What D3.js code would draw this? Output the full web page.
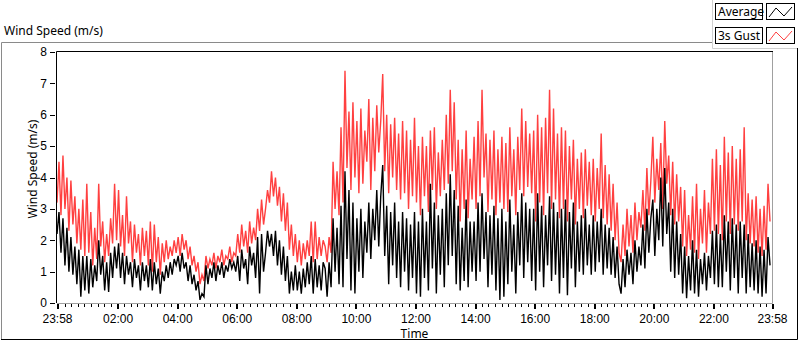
<!DOCTYPE html>
<html>
<head>
<meta charset="utf-8">
<script src="https://cdnjs.cloudflare.com/ajax/libs/d3/7.8.5/d3.min.js"></script>
<style>
  body { margin: 0; background: #fff; }
  svg { display: block; font-family: "Segoe UI", "Noto Sans", sans-serif; font-size: 12px; }
</style>
</head>
<body>
<div class="chart"></div>
<script>
// Wind speed chart: one sample every 4 minutes over 24 hours (15 per row = 1 hour)
var startTime = "2000-01-01 23:58";
var endTime = "2000-01-02 23:58";
var sampleMinutes = 4;

var gustSpeed = [
  3.2, 4.5, 2.8, 4.7, 3.0, 4.0, 2.3, 3.9, 2.5, 3.4, 1.9, 3.0, 1.7, 3.3, 1.5,
  3.8, 1.6, 2.9, 1.2, 2.4, 1.4, 3.8, 1.8, 2.6, 1.3, 2.2, 1.5, 2.7, 1.9, 3.8,
  2.0, 3.6, 1.8, 2.8, 1.5, 3.4, 1.9, 2.6, 1.3, 2.5, 1.6, 2.2, 1.2, 2.4, 1.5,
  2.3, 1.2, 2.6, 1.0, 2.5, 1.3, 2.1, 0.9, 1.9, 1.3, 2.0, 1.4, 1.8, 1.5, 2.0,
  1.6, 2.1, 1.5, 2.2, 1.7, 2.0, 1.4, 1.8, 1.2, 1.5, 1.0, 1.3, 0.6, 0.9, 0.7,
  1.5, 1.1, 1.4, 1.2, 1.6, 1.1, 1.5, 1.3, 1.7, 1.2, 1.5, 1.4, 1.8, 1.3, 1.6,
  1.5, 2.2, 1.6, 2.5, 1.8, 2.3, 1.6, 2.6, 1.9, 2.4, 2.0, 3.0, 2.3, 3.3, 2.5,
  3.0, 3.6, 3.2, 4.2, 3.4, 4.0, 3.1, 3.7, 2.6, 3.5, 2.3, 3.2, 1.7, 2.5, 1.5,
  2.2, 1.3, 2.0, 1.2, 1.9, 1.4, 2.0, 1.5, 2.6, 1.3, 2.6, 1.4, 2.1, 1.5, 2.0,
  1.8, 1.3, 2.1, 1.6, 4.5, 3.0, 4.2, 2.8, 5.6, 3.2, 7.4, 4.3, 6.1, 3.6, 6.4,
  4.0, 5.8, 3.5, 6.2, 3.8, 5.5, 4.5, 6.5, 3.6, 5.9, 4.2, 6.3, 4.8, 5.8, 7.3,
  4.2, 6.0, 3.5, 5.7, 4.0, 5.9, 3.6, 5.4, 3.3, 5.8, 3.5, 5.5, 3.0, 5.2, 3.4,
  5.9, 3.2, 5.0, 2.8, 5.3, 3.4, 5.0, 2.9, 5.5, 3.6, 5.6, 3.0, 4.8, 3.4, 5.2,
  3.6, 6.0, 3.8, 6.8, 4.2, 6.4, 3.3, 5.2, 2.6, 4.9, 3.0, 5.5, 2.7, 4.6, 3.3,
  5.3, 3.0, 5.8, 3.4, 6.8, 4.0, 5.4, 2.9, 5.2, 3.3, 5.5, 2.8, 4.9, 3.2, 5.3,
  3.0, 5.1, 2.9, 5.6, 3.4, 4.9, 2.8, 5.3, 3.6, 6.2, 3.4, 5.8, 3.7, 5.4, 3.5,
  5.5, 2.6, 6.0, 3.2, 5.6, 2.8, 5.9, 3.5, 6.8, 3.0, 6.2, 3.3, 5.4, 2.7, 5.6,
  3.0, 5.5, 2.6, 5.0, 3.3, 5.2, 2.5, 4.6, 3.0, 4.8, 2.7, 4.9, 3.1, 4.5, 2.8,
  4.6, 2.6, 4.3, 3.0, 5.4, 2.7, 4.4, 2.5, 4.1, 2.3, 3.8, 2.0, 3.2, 1.6, 1.3,
  2.5, 1.5, 3.0, 1.8, 2.8, 1.6, 3.2, 2.0, 2.9, 2.4, 3.6, 2.3, 4.3, 2.8, 3.9,
  5.3, 3.2, 4.6, 3.6, 5.1, 3.0, 5.8, 3.8, 4.7, 2.8, 4.5, 2.5, 4.1, 2.6, 3.7,
  1.8, 3.6, 1.5, 2.8, 1.7, 3.4, 1.6, 3.8, 1.4, 3.0, 1.9, 3.6, 1.6, 3.2, 2.2,
  4.6, 2.3, 4.9, 2.2, 4.4, 2.0, 5.3, 2.6, 4.8, 2.2, 5.0, 2.5, 4.6, 2.3, 4.9,
  2.6, 5.6, 2.0, 3.5, 1.9, 3.3, 1.8, 3.4, 1.6, 3.0, 1.5, 3.1, 1.7, 3.8, 2.6
];

var avgSpeed = [
  2.2, 2.9, 1.6, 2.7, 1.2, 2.4, 1.0, 2.1, 0.9, 1.8, 0.6, 1.7, 0.2, 1.5, 0.4,
  1.5, 0.3, 1.4, 0.5, 1.2, 0.7, 2.0, 0.9, 1.5, 0.4, 1.3, 0.35, 1.6, 0.8, 1.8,
  1.1, 1.9, 0.8, 1.6, 0.6, 1.5, 0.9, 1.3, 0.5, 1.4, 0.8, 1.2, 0.4, 1.3, 0.7,
  1.2, 0.5, 1.4, 0.4, 1.3, 0.6, 1.1, 0.3, 1.0, 0.7, 1.2, 0.8, 1.3, 0.9, 1.4,
  1.2, 1.5, 1.0, 1.6, 1.1, 1.3, 0.7, 1.2, 0.6, 0.9, 0.4, 0.7, 0.1, 0.3, 0.2,
  1.2, 0.6, 1.1, 0.8, 1.3, 0.7, 1.2, 0.9, 1.3, 0.8, 1.2, 1.0, 1.4, 1.1, 1.3,
  1.0, 1.5, 0.7, 1.7, 1.1, 1.4, 0.6, 1.8, 1.2, 1.6, 0.8, 2.1, 0.3, 2.2, 1.0,
  1.6, 2.3, 1.8, 2.2, 1.5, 2.3, 1.2, 2.0, 0.9, 1.8, 0.7, 1.5, 0.3, 1.0, 0.4,
  1.2, 0.4, 1.0, 0.3, 1.1, 0.5, 1.3, 0.6, 1.5, 0.3, 1.4, 0.5, 1.2, 0.4, 1.3,
  1.1, 0.2, 1.3, 0.5, 2.7, 1.0, 2.4, 0.6, 3.1, 0.5, 4.2, 1.4, 3.6, 0.4, 3.2,
  0.3, 2.7, 1.0, 3.0, 0.8, 2.6, 1.6, 3.2, 1.4, 3.0, 2.0, 3.6, 1.8, 3.4, 4.4,
  1.5, 3.1, 0.6, 2.9, 1.2, 3.2, 0.8, 2.6, 0.5, 2.9, 1.0, 2.7, 0.4, 2.5, 0.8,
  2.9, 0.3, 2.6, 0.2, 3.0, 0.8, 2.6, 0.4, 3.8, 1.1, 3.2, 0.3, 2.8, 0.9, 3.0,
  0.5, 3.5, 1.2, 4.1, 1.5, 3.6, 0.6, 3.1, 0.4, 2.4, 0.7, 3.3, 0.5, 2.6, 1.0,
  2.6, 0.7, 3.2, 1.0, 3.5, 1.4, 2.9, 0.5, 2.8, 0.9, 3.1, 0.4, 2.7, 0.1, 3.0,
  0.2, 2.6, 0.6, 3.3, 1.0, 2.5, 0.3, 2.9, 1.2, 3.5, 0.8, 3.2, 1.3, 3.0, 0.7,
  3.0, 0.4, 3.5, 1.0, 3.1, 0.5, 2.8, 1.2, 3.4, 0.7, 3.2, 0.9, 2.9, 0.3, 3.0,
  0.8, 3.3, 0.25, 2.9, 1.1, 3.2, 0.5, 2.6, 1.0, 2.8, 0.9, 3.0, 1.2, 2.5, 0.9,
  2.8, 1.0, 2.6, 1.3, 3.0, 0.9, 2.5, 1.1, 2.4, 0.9, 2.1, 0.8, 1.8, 0.6, 0.3,
  1.4, 0.5, 1.7, 0.9, 1.6, 0.6, 2.0, 1.0, 1.8, 1.2, 2.5, 1.1, 3.0, 1.6, 2.7,
  3.3, 1.5, 3.0, 2.0, 4.0, 1.8, 4.3, 2.2, 3.2, 1.0, 3.0, 0.8, 2.6, 0.9, 2.2,
  0.3, 1.8, 0.15, 1.5, 0.4, 2.0, 0.3, 1.7, 0.2, 1.4, 0.6, 1.6, 0.4, 1.5, 0.8,
  2.3, 0.6, 2.5, 0.5, 2.2, 0.5, 2.8, 1.0, 2.6, 0.4, 2.7, 0.8, 2.5, 0.3, 2.6,
  0.8, 2.5, 0.3, 2.2, 0.5, 1.9, 0.4, 2.0, 0.3, 1.8, 0.2, 1.7, 0.3, 2.1, 1.2
];

var yTicks = [0, 1, 2, 3, 4, 5, 6, 7, 8];
var timeTicks = ["02:00", "04:00", "06:00", "08:00", "10:00", "12:00",
                 "14:00", "16:00", "18:00", "20:00", "22:00"];
var seriesNames = ["Average", "3s Gust"];
var seriesColors = ["#000000", "#ff4040"];

var svgWidth = 800;
var svgHeight = 342;

var plot = { left: 57, top: 52, right: 772, bottom: 303 };

var svg = d3.select(".chart")
  .append("svg")
  .attr("width", svgWidth)
  .attr("height", svgHeight);

// Scales
var parseTime = d3.timeParse("%Y-%m-%d %H:%M");
var t0 = parseTime(startTime);
var t1 = parseTime(endTime);

var xTimeScale = d3.scaleTime()
  .domain([t0, t1])
  .range([plot.left, plot.right]);

var yLinearScale = d3.scaleLinear()
  .domain([0, 8])
  .range([plot.bottom, plot.top]);

// Outer frame
svg.append("text")
  .attr("x", 4)
  .attr("y", 35)
  .text("Wind Speed (m/s)");

svg.append("path")
  .attr("d", "M1.5,340 V42.5 H712")
  .attr("fill", "none")
  .attr("stroke", "#8a8a8a");
svg.append("path")
  .attr("d", "M1,339.5 H797.5 V48")
  .attr("fill", "none")
  .attr("stroke", "#000");

// Axes
var majorTimes = [t0].concat(timeTicks.map(d => parseTime("2000-01-02 " + d))).concat([t1]);
var minorTimes = d3.range(1, 108).map(i => d3.timeSecond.offset(parseTime("2000-01-02 00:00"), i * 800))
  .filter(d => d < t1);

var bottomAxis = d3.axisBottom(xTimeScale)
  .tickValues(majorTimes)
  .tickFormat(d3.timeFormat("%H:%M"))
  .tickSize(5)
  .tickPadding(5);

var minorAxis = d3.axisBottom(xTimeScale)
  .tickValues(minorTimes)
  .tickFormat("")
  .tickSize(3);

var leftAxis = d3.axisLeft(yLinearScale)
  .tickValues(yTicks)
  .tickSize(5)
  .tickPadding(3);

var xAxisG = svg.append("g")
  .attr("transform", `translate(0, ${plot.bottom + 1})`)
  .call(bottomAxis);
var xMinorG = svg.append("g")
  .attr("transform", `translate(0, ${plot.bottom + 1})`)
  .call(minorAxis);
var yAxisG = svg.append("g")
  .attr("transform", `translate(${plot.left - 2}, 0)`)
  .call(leftAxis);

[xAxisG, xMinorG, yAxisG].forEach(function (g) {
  g.select(".domain").remove();
  g.selectAll("text").attr("fill", "#000").attr("font-family", null).attr("font-size", 12);
  g.selectAll("line").attr("stroke", "#000").attr("shape-rendering", "crispEdges");
});
xAxisG.selectAll("line").attr("stroke-width", 2);

// Lines
svg.append("clipPath").attr("id", "plotclip")
  .append("rect")
  .attr("x", plot.left)
  .attr("y", plot.top)
  .attr("width", plot.right - plot.left)
  .attr("height", plot.bottom - plot.top);

var line = d3.line()
  .x((d, i) => xTimeScale(d3.timeMinute.offset(t0, i * sampleMinutes)))
  .y(d => yLinearScale(d));

var linesGroup = svg.append("g").attr("clip-path", "url(#plotclip)");

linesGroup.append("path")
  .datum(gustSpeed)
  .attr("d", line)
  .attr("fill", "none")
  .attr("stroke", seriesColors[1])
  .attr("stroke-width", 1.4)
  .attr("stroke-linejoin", "miter");

linesGroup.append("path")
  .datum(avgSpeed)
  .attr("d", line)
  .attr("fill", "none")
  .attr("stroke", seriesColors[0])
  .attr("stroke-width", 1.4)
  .attr("stroke-linejoin", "miter");

// Plot border: dark top/left, grey bottom/right
svg.append("path")
  .attr("d", `M${plot.left - 0.5},${plot.bottom} V${plot.top - 0.5} H${plot.right + 1}`)
  .attr("fill", "none")
  .attr("stroke", "#000");
svg.append("path")
  .attr("d", `M${plot.left},${plot.bottom + 0.5} H${plot.right + 0.5} V${plot.top}`)
  .attr("fill", "none")
  .attr("stroke", "#a0a0a0");

// Axis labels
svg.append("text")
  .attr("transform", `translate(37, 169) rotate(-90)`)
  .attr("text-anchor", "middle")
  .text("Wind Speed (m/s)");

svg.append("text")
  .attr("x", (plot.left + plot.right) / 2)
  .attr("y", 338)
  .attr("text-anchor", "middle")
  .text("Time");

// Legend
var legend = svg.append("g");
legend.append("path")
  .attr("d", "M712.5,0 V48.5 H797")
  .attr("fill", "none")
  .attr("stroke", "#d0d0d0");

var legendRows = legend.selectAll("g.row")
  .data(seriesNames)
  .enter()
  .append("g")
  .attr("class", "row")
  .attr("transform", (d, i) => `translate(0, ${3 + i * 24})`);

legendRows.append("rect")
  .attr("x", 715.5).attr("y", 0.5)
  .attr("width", 47).attr("height", 16)
  .attr("fill", "#fff").attr("stroke", "#000");

legendRows.append("text")
  .attr("x", 718).attr("y", 13)
  .text(d => d);

legendRows.append("rect")
  .attr("x", 766.5).attr("y", 0.5)
  .attr("width", 28).attr("height", 16)
  .attr("fill", "#fff").attr("stroke", "#000");

legendRows.append("path")
  .attr("d", "M769,14 L776,5 L784,13 L792,4")
  .attr("fill", "none")
  .attr("stroke", (d, i) => seriesColors[i]);
</script>
</body>
</html>
